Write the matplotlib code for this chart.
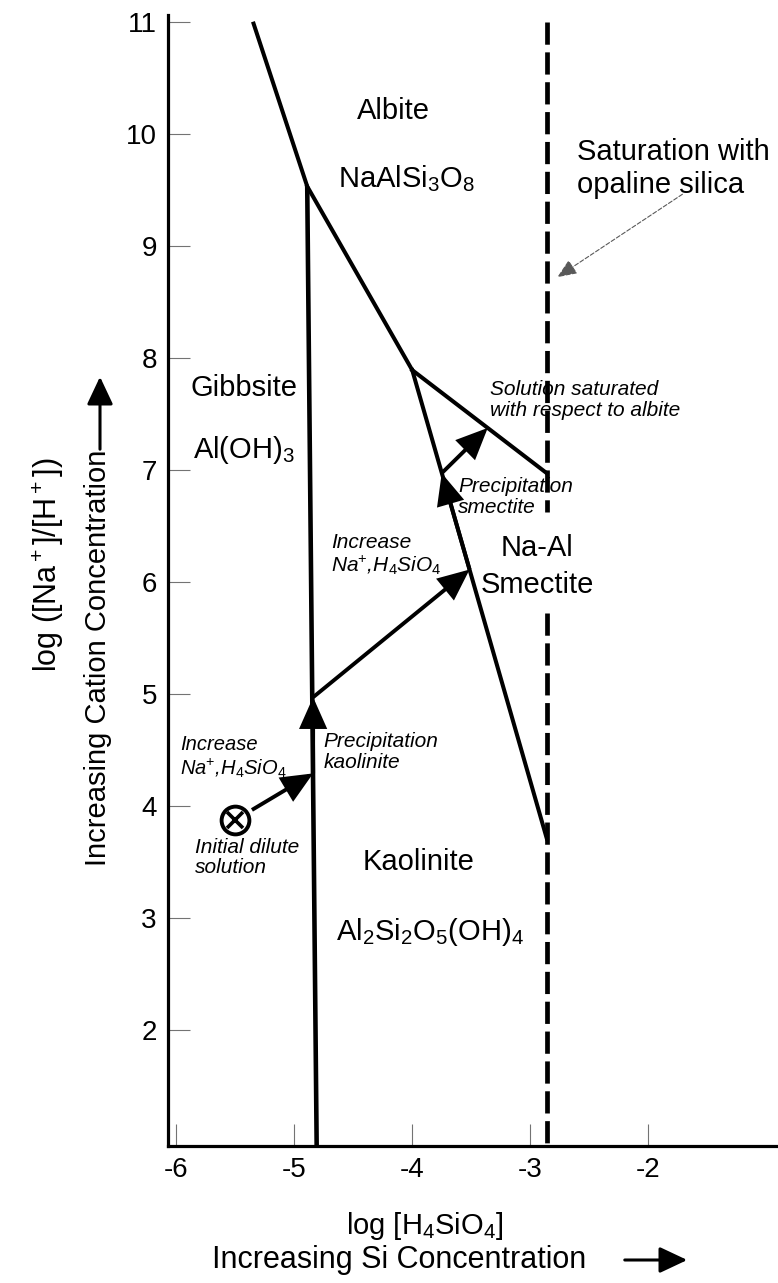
import matplotlib
matplotlib.use("Agg")
import matplotlib.pyplot as plt
from matplotlib.patches import FancyArrowPatch

plt.rcParams['font.family'] = ['Liberation Sans', 'DejaVu Sans']
plt.rcParams['mathtext.fontset'] = 'custom'
plt.rcParams['mathtext.rm'] = 'Liberation Sans'
plt.rcParams['mathtext.it'] = 'Liberation Sans:italic'
plt.rcParams['mathtext.bf'] = 'Liberation Sans:bold'
plt.rcParams['axes.unicode_minus'] = False
plt.rcParams['lines.scale_dashes'] = False

# ---- stability field boundaries: log[H4SiO4] vs log([Na+]/[H+]) ----
albite_gibbsite_x = [-5.35, -4.89]
albite_gibbsite_y = [11.0, 9.53]
gibbsite_kaolinite_x = [-4.89, -4.81]
gibbsite_kaolinite_y = [9.53, 0.96]
albite_kaolinite_x = [-4.89, -4.0]
albite_kaolinite_y = [9.53, 7.89]
kaolinite_smectite_x = [-4.0, -2.86]
kaolinite_smectite_y = [7.89, 3.71]
albite_smectite_x = [-4.0, -2.86]
albite_smectite_y = [7.89, 6.97]

# opaline silica saturation (dashed), drawn in two pieces around the smectite label
opaline_x = -2.86
opaline_upper_y = [11.0, 6.62]
opaline_lower_y = [5.72, 0.96]

# evolution path of the solution
initial_point = (-5.50, 3.875)
path_x = [-4.84, -4.84, -3.514, -3.75, -3.36]
path_y = [4.29, 4.97, 6.11, 6.97, 7.374]

x_ticks = [-6, -5, -4, -3, -2]
y_ticks = [2, 3, 4, 5, 6, 7, 8, 9, 10, 11]

W, H = 778, 1283
fig = plt.figure(figsize=(W / 100, H / 100), dpi=100)
ax = fig.add_axes([168 / W, (H - 1146) / H, 1 - 168 / W, (1146 - 15) / H])
ax.set_xlim(-6.07, -0.90)
ax.set_ylim(0.964, 11.06)

for side in ('top', 'right'):
    ax.spines[side].set_visible(False)
for side in ('left', 'bottom'):
    ax.spines[side].set_linewidth(2.3)
    ax.spines[side].set_color('black')

ax.set_xticks(x_ticks)
ax.set_yticks(y_ticks)
ax.set_xticklabels([str(v) for v in x_ticks])
ax.set_yticklabels([str(v) for v in y_ticks])
ax.tick_params(direction='in', length=16, width=0.8, color='0.45',
               labelsize=20, pad=8)

lw = 2.9
ax.plot(albite_gibbsite_x, albite_gibbsite_y, color='black', lw=lw, solid_capstyle='butt')
ax.plot(gibbsite_kaolinite_x, gibbsite_kaolinite_y, color='black', lw=3.3, solid_capstyle='butt')
ax.plot(albite_kaolinite_x, albite_kaolinite_y, color='black', lw=lw)
ax.plot(kaolinite_smectite_x, kaolinite_smectite_y, color='black', lw=lw)
ax.plot(albite_smectite_x, albite_smectite_y, color='black', lw=lw)

dash = (0, (16, 5.5))
ax.plot([opaline_x, opaline_x], opaline_upper_y, color='black', lw=3.4, linestyle=dash)
ax.plot([opaline_x, opaline_x], opaline_lower_y, color='black', lw=3.4, linestyle=dash)

# solution path arrows
arrow_style = '-|>,head_length=0.9,head_width=0.4'
starts = [initial_point] + list(zip(path_x[:-1], path_y[:-1]))
ends = list(zip(path_x, path_y))
for i, (s, e) in enumerate(zip(starts, ends)):
    arr = FancyArrowPatch(s, e, arrowstyle=arrow_style, mutation_scale=20,
                          color='black', lw=2.8,
                          shrinkA=(14 if i == 0 else 0), shrinkB=0,
                          joinstyle='miter', capstyle='butt')
    ax.add_patch(arr)

ax.plot(*initial_point, marker='o', ms=20, mfc='white', mec='black', mew=2.8, zorder=5)
ax.plot(*initial_point, marker='x', ms=11, mec='black', mew=2.6, zorder=6)

# pointer to the silica saturation line
ax.annotate('', xy=(-2.77, 8.72), xytext=(-1.71, 9.46),
            arrowprops=dict(arrowstyle='-|>,head_length=0.6,head_width=0.25',
                            mutation_scale=20, lw=0.8, color='0.35',
                            linestyle=(0, (3, 1.5)), shrinkA=0, shrinkB=0))

# stability field names
big = 21
ax.text(-4.16, 10.2, 'Albite', fontsize=big, ha='center', va='center')
ax.text(-4.05, 9.6, r'NaAlSi$_3$O$_8$', fontsize=big, ha='center', va='center')
ax.text(-5.43, 7.73, 'Gibbsite', fontsize=big, ha='center', va='center')
ax.text(-5.43, 7.18, r'Al(OH)$_3$', fontsize=big, ha='center', va='center')
ax.text(-3.95, 3.50, 'Kaolinite', fontsize=big, ha='center', va='center')
ax.text(-3.85, 2.875, r'Al$_2$Si$_2$O$_5$(OH)$_4$', fontsize=big, ha='center', va='center')
ax.text(-2.94, 6.30, 'Na-Al', fontsize=big, ha='center', va='center')
ax.text(-2.94, 5.97, 'Smectite', fontsize=big, ha='center', va='center')
ax.text(-2.60, 9.69, 'Saturation with\nopaline silica', fontsize=big,
        ha='left', va='center', linespacing=1.2)

# process notes
small = 15
na_h4sio4 = r'Na$^{\mathit{+}}$,H$_{\mathit{4}}$SiO$_{\mathit{4}}$'
notes = [
    (-3.34, 7.625, 'Solution saturated\nwith respect to albite', small),
    (-3.61, 6.76, 'Precipitation\nsmectite', small),
    (-4.69, 6.24, 'Increase\n' + na_h4sio4, small),
    (-4.75, 4.48, 'Precipitation\nkaolinite', small),
    (-5.97, 4.43, 'Increase\n' + na_h4sio4, 14.5),
    (-5.84, 3.54, 'Initial dilute\nsolution', small),
]
for x, y, s, fs in notes:
    ax.text(x, y, s, fontsize=fs, style='italic', ha='left', va='center',
            linespacing=1.12)

# axis titles
fig.text(48 / W, 1 - 565 / H, r'log ([Na$^+$]/[H$^+$])', rotation=90,
         fontsize=22, ha='center', va='center')
fig.text(98 / W, 1 - 866 / H, 'Increasing Cation Concentration', rotation=90,
         fontsize=21, ha='center', va='bottom')
fig.add_artist(FancyArrowPatch((100 / W, 1 - 452 / H), (100 / W, 1 - 374 / H),
                               transform=fig.transFigure,
                               arrowstyle='-|>,head_length=0.85,head_width=0.4',
                               mutation_scale=20, lw=2.2, color='black'))

fig.text(425 / W, 1 - 1226 / H, r'log [H$_4$SiO$_4$]', fontsize=21,
         ha='center', va='center')
fig.text(212 / W, 1 - 1260 / H, 'Increasing Si Concentration', fontsize=22,
         ha='left', va='center')
fig.add_artist(FancyArrowPatch((622 / W, 1 - 1260 / H), (690 / W, 1 - 1260 / H),
                               transform=fig.transFigure,
                               arrowstyle='-|>,head_length=0.85,head_width=0.4',
                               mutation_scale=20, lw=2.2, color='black'))

fig.savefig('out.png', dpi=100, facecolor='white')
